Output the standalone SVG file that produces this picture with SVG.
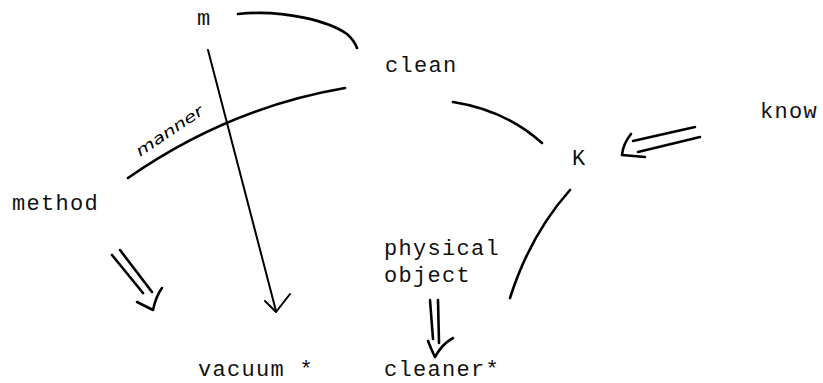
<svg xmlns="http://www.w3.org/2000/svg" width="823" height="383" viewBox="0 0 823 383">
<style>
text.n{font-family:"Liberation Mono","DejaVu Sans Mono",monospace;font-size:22px;letter-spacing:1.3px;fill:#111}
.c{fill:none;stroke:#000;stroke-width:2.6;stroke-linecap:round;stroke-linejoin:round}
.t{stroke-width:2}
.lbl{font-family:"DejaVu Sans","Liberation Sans",sans-serif;font-size:15px;font-style:italic;fill:#000}
</style>
<rect width="823" height="383" fill="#fff"/>
<g id="node-m"><text class="n" x="197" y="25">m</text></g>
<g id="node-clean"><text class="n" x="385" y="72">clean</text></g>
<g id="node-know"><text class="n" x="760" y="118">know</text></g>
<g id="node-K"><text class="n" x="572" y="165">K</text></g>
<g id="node-method"><text class="n" x="12" y="210">method</text></g>
<g id="node-physical-object"><text class="n" x="384" y="255">physical</text><text class="n" x="384" y="282">object</text></g>
<g id="node-vacuum"><text class="n" x="198" y="376">vacuum *</text></g>
<g id="node-cleaner"><text class="n" x="384" y="376">cleaner*</text></g>
<g id="connectors">
<path class="c" d="M238,14 C285,9 330,22 347,34 Q354,40 357,48"/>
<path class="c" d="M128,178 Q228,108 345,88"/>
<text class="lbl" transform="translate(140,157) rotate(-34)" textLength="78" lengthAdjust="spacingAndGlyphs">manner</text>
<path class="c t" d="M208,50 L276,311"/>
<path class="c t" d="M265,301 L276,312 L290,294"/>
<path class="c" d="M453,102 Q505,110 542,143"/>
<path class="c" d="M570,190 Q530,235 510,298"/>
<path class="c" d="M695,127 L633,141 M700,137 L638,152"/>
<path class="c" d="M631,134 Q623,144 622,155 L645,157"/>
<path class="c" d="M112,255 L143,293 M120,250 L152,292"/>
<path class="c" d="M137,302 L153,310 Q156,296 162,288"/>
<path class="c" d="M430,300 L433,339 M438,300 L439,343"/>
<path class="c" d="M428,341 Q432,351 435,357 Q442,344 453,338"/>
</g>
</svg>
